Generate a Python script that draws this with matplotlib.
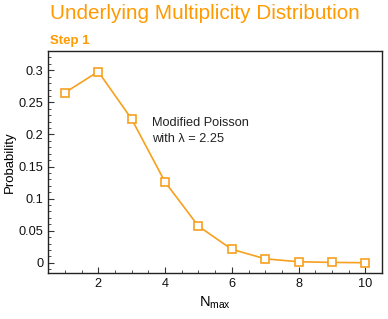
import numpy as np
import matplotlib
matplotlib.use('Agg')
import matplotlib.pyplot as plt
from matplotlib.ticker import MultipleLocator

# data
n_max = [1, 2, 3, 4, 5, 6, 7, 8, 9, 10]
prob = [0.265, 0.298, 0.224, 0.126, 0.057, 0.021, 0.0062, 0.0016, 0.0006, 0.0001]
y_ticks = [0, 0.05, 0.1, 0.15, 0.2, 0.25, 0.3]
y_tick_labels = ['0', '0.05', '0.1', '0.15', '0.2', '0.25', '0.3']
x_ticks = [2, 4, 6, 8, 10]

orange = '#FF9A00'
line_orange = '#F7A01E'

plt.rcParams['font.family'] = ['Liberation Sans', 'DejaVu Sans']

fig = plt.figure(figsize=(3.88, 3.19), dpi=100)
ax = fig.add_axes([0.124, 0.144, 0.861, 0.696])

ax.plot(n_max, prob, color=line_orange, lw=1.2, marker='s', ms=5.2,
        mfc='white', mec=line_orange, mew=1.2)

ax.set_xlim(0.5, 10.5)
ax.set_ylim(-0.016, 0.33)
ax.set_xticks(x_ticks)
ax.set_yticks(y_ticks)
ax.set_yticklabels(y_tick_labels)
ax.xaxis.set_minor_locator(MultipleLocator(0.5))
ax.yaxis.set_minor_locator(MultipleLocator(0.01))
ax.tick_params(which='both', direction='in', top=False, right=False,
               labelsize=9.2, color='#333333', labelcolor='#111111')
ax.tick_params(which='major', length=4, width=0.8)
ax.tick_params(which='minor', length=2, width=0.6)
for s in ax.spines.values():
    s.set_linewidth(1.0)
    s.set_color('#222222')

ax.set_ylabel('Probability', fontsize=9.5, labelpad=2)
ax.set_xlabel(r'N$_{\mathregular{max}}$', fontsize=10.5, labelpad=3)

ax.text(3.6, 0.227, 'Modified Poisson\nwith λ = 2.25', fontsize=9.2,
        va='top', ha='left', linespacing=1.45, color='#222222')

fig.text(0.129, 0.942, 'Underlying Multiplicity Distribution', color=orange,
         fontsize=14.9, va='baseline', ha='left')
fig.text(0.129, 0.861, 'Step 1', color=orange, fontsize=9.5, fontweight='bold',
         va='baseline', ha='left')

fig.savefig('out.png', dpi=100)
